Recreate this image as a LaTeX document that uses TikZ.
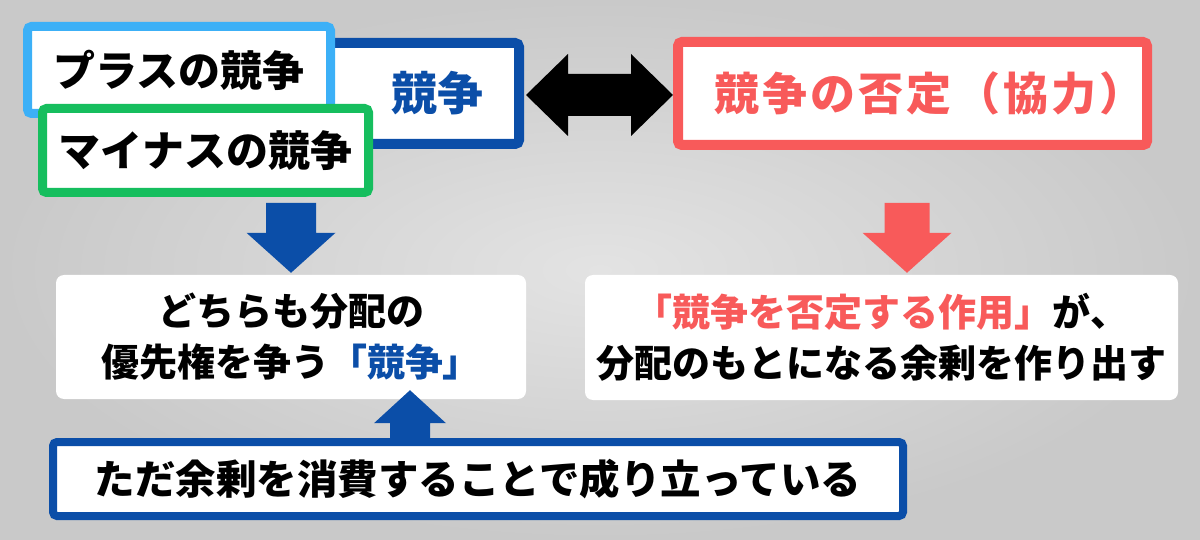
\documentclass[tikz,border=0pt]{standalone}
\usepackage{fontspec}
\setmainfont{Noto Sans CJK JP}
\usetikzlibrary{calc,positioning}

\definecolor{cblue}{HTML}{0B4EA8}
\definecolor{clight}{HTML}{3CB0F7}
\definecolor{cgreen}{HTML}{16BE5E}
\definecolor{cred}{HTML}{F85A5A}
\definecolor{bglight}{HTML}{E3E3E3}
\definecolor{bgdark}{HTML}{C9C9C9}

\tikzset{
  frame/.style={draw, line width=9pt, fill=white, rounded corners=4pt, inner sep=0pt,
    font=\bfseries\fontsize{42}{50}\selectfont},
  card/.style={fill=white, rounded corners=8pt, align=center, inner sep=0pt,
    font=\bfseries\fontsize{38}{51}\selectfont},
}

\begin{document}
\begin{tikzpicture}[x=1pt, y=-1pt]
    % background
    \useasboundingbox (0,0) rectangle (1200,540);
    \shade[inner color=bglight, outer color=bgdark] (0,0) rectangle (1200,540);

    % Define nodes
    \node[frame, draw=cblue, text=cblue, line width=10pt, minimum width=194pt, minimum height=101pt,
      font=\bfseries\fontsize{46}{50}\selectfont] (comp) at (422,93.5) {\hspace*{30pt}競争};
    \node[frame, draw=clight, minimum width=303pt, minimum height=87pt] (plus) at (179,70) {プラスの競争};
    \node[frame, draw=cgreen, minimum width=326pt, minimum height=84pt] (minus) at (205.5,150.5) {マイナスの競争};
    \node[frame, draw=cred, text=cred, line width=10pt, minimum width=469pt, minimum height=103pt,
      font=\bfseries\fontsize{45}{50}\selectfont\addfontfeature{LetterSpace=7}] (neg) at (912.5,93.5)
      {\hspace*{34pt}競争の否定（協力）};
    \node[card, minimum width=470pt, minimum height=124pt] (prio) at (291,337)
      {どちらも分配の\\優先権を争う{\color{cblue}「競争」}};
    \node[card, minimum width=593pt, minimum height=125pt] (gen) at (881.5,337.5)
      {{\color{cred}「競争を否定する作用」}が、\\分配のもとになる余剰を作り出す};

    % Connect nodes
    \fill ($(comp.east)+(2,1.5)$) -- ++(42,-41) -- ++(0,20) -- ++(63,0) -- ++(0,-20) -- ++(42,41)
      -- ++(-42,41) -- ++(0,-20) -- ++(-63,0) -- ++(0,20) -- cycle;
    \fill[cblue] ($(prio.north)+(0,-2)$) -- ++(-44.5,-40) -- ++(19.5,0) -- ++(0,-30) -- ++(50,0)
      -- ++(0,30) -- ++(19.5,0) -- cycle;
    \fill[cred] ($(gen.north)+(25.5,-2)$) -- ++(-44.5,-40) -- ++(22,0) -- ++(0,-30) -- ++(45,0)
      -- ++(0,30) -- ++(22,0) -- cycle;
    \fill[cblue] ($(prio.south)+(119,-9)$) -- ++(36,33) -- ++(-16,0) -- ++(0,20) -- ++(-40,0)
      -- ++(0,-20) -- ++(-16,0) -- cycle;

    \node[frame, draw=cblue, line width=8pt, minimum width=850pt, minimum height=74pt,
      font=\bfseries\fontsize{40.5}{48}\selectfont] (base) at (478,479) {ただ余剰を消費することで成り立っている};
\end{tikzpicture}
\end{document}
